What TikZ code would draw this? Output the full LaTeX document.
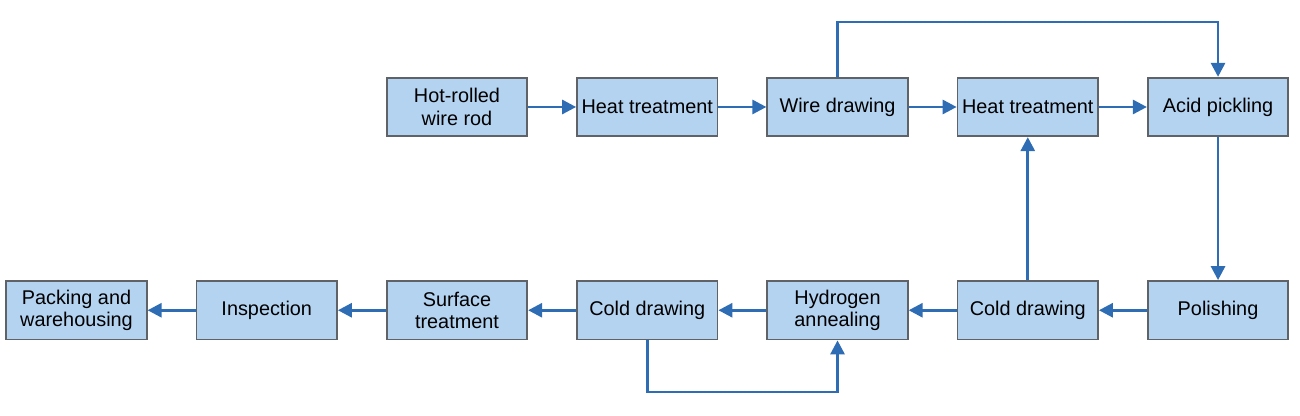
\documentclass[tikz,border=0pt]{standalone}
\usepackage{fontspec}
\setmainfont{Liberation Sans}
\usetikzlibrary{positioning,arrows.meta}
\definecolor{boxfill}{HTML}{B3D3F0}
\definecolor{boxline}{HTML}{5F6368}
\definecolor{flowblue}{HTML}{2E6DB4}
\tikzset{
  stepbox/.style={draw=boxline, line width=1pt, fill=boxfill, minimum width=2.81cm, minimum height=1.17cm,
    align=center, inner sep=1pt, font=\fontsize{11.3}{12.8}\selectfont},
  flow/.style={draw=flowblue, line width=1.6pt, -{Triangle[length=8pt,width=8pt]}}
}
\begin{document}
\begin{tikzpicture}[node distance=0.96cm]
\useasboundingbox (0,0) rectangle (26,8.32);
\node[stepbox] (rod) at (9.14,6.18) {Hot-rolled\\wire rod};
\node[stepbox, right=of rod] (heat1) {Heat treatment};
\node[stepbox, right=of heat1] (wire) {Wire drawing};
\node[stepbox, right=of wire] (heat2) {Heat treatment};
\node[stepbox, right=of heat2] (acid) {Acid pickling};
%----------------------------------
\node[stepbox, below=2.86cm of acid] (polish) {Polishing};
\node[stepbox, left=of polish] (cold1) {Cold drawing};
\node[stepbox, left=of cold1] (hydro) {Hydrogen\\annealing};
\node[stepbox, left=of hydro] (cold2) {Cold drawing};
\node[stepbox, left=of cold2] (surf) {Surface\\treatment};
\node[stepbox, left=of surf] (insp) {Inspection};
\node[stepbox, left=of insp] (pack) {Packing and\\warehousing};
%----------------------------------
\coordinate (topA) at (wire.north |- 0,7.88);
\coordinate (topB) at (acid.north |- 0,7.88);
\coordinate (botA) at (cold2.south |- 0,0.48);
\coordinate (botB) at (hydro.south |- 0,0.48);
\draw[flow] (rod) -- (heat1);
\draw[flow] (heat1) -- (wire);
\draw[flow] (wire) -- (heat2);
\draw[flow] (heat2) -- (acid);
\draw[flow] (wire.north) -- (topA) -- (topB) -- (acid.north);
\draw[flow] (acid) -- (polish);
\draw[flow] (polish) -- (cold1);
\draw[flow] (cold1) -- (heat2);
\draw[flow] (cold1) -- (hydro);
\draw[flow] (hydro) -- (cold2);
\draw[flow] (cold2.south) -- (botA) -- (botB) -- (hydro.south);
\draw[flow] (cold2) -- (surf);
\draw[flow] (surf) -- (insp);
\draw[flow] (insp) -- (pack);
\end{tikzpicture}
\end{document}
